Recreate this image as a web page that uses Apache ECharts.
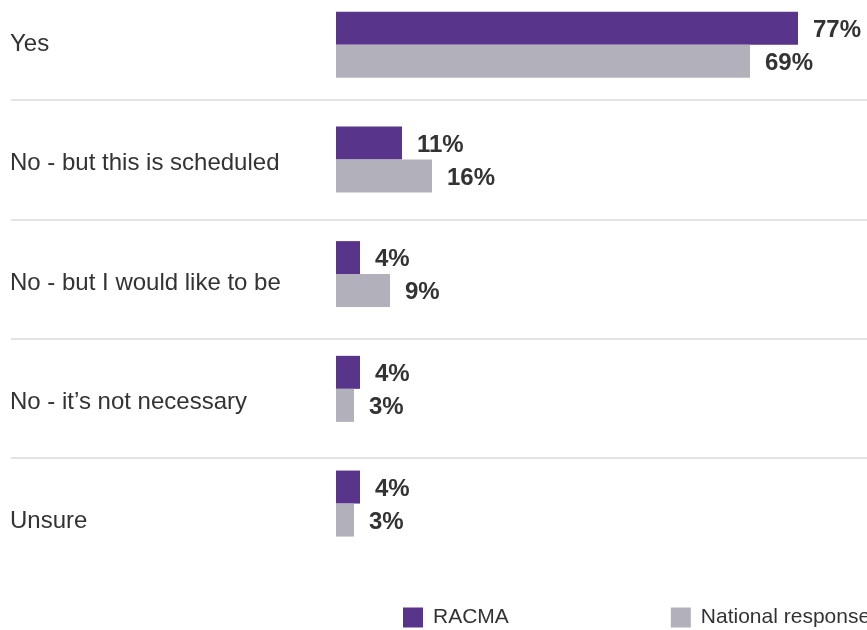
<!DOCTYPE html>
<html>
<head>
<meta charset="utf-8">
<title>RACMA vs National</title>
<script src="https://cdn.jsdelivr.net/npm/echarts@6/dist/echarts.min.js"></script>
<style>
  html, body { margin: 0; padding: 0; background: #fff; }
  #chart { width: 867px; height: 630px; }
</style>
</head>
<body>
<div id="chart"></div>
<script>
var categories = [
  "Yes",
  "No - but this is scheduled",
  "No - but I would like to be",
  "No - it\u2019s not necessary",
  "Unsure"
];
var racma = [77, 11, 4, 4, 4];
var national = [69, 16, 9, 3, 3];
var seriesNames = ["RACMA", "National response"];

var purple = "#58348b";
var grey = "#b1b0bb";
var textColor = "#333";
var fontFamily = "'Liberation Sans', Arial, sans-serif";
var sepColor = "#e3e3e3";

var myChart = echarts.init(document.getElementById("chart"));

function barSeries(name, data, color) {
  return {
    name: name,
    type: "bar",
    xAxisIndex: 0,
    yAxisIndex: 0,
    data: data,
    barWidth: 33,
    barGap: "0%",
    itemStyle: { color: color },
    label: {
      show: true,
      position: "right",
      distance: 15,
      offset: [0, 2],
      formatter: "{c}%",
      fontFamily: fontFamily,
      fontSize: 24,
      fontWeight: "bold",
      color: textColor
    }
  };
}

var option = {
  animation: false,
  textStyle: { fontFamily: fontFamily },
  legend: {
    data: seriesNames,
    left: 403,
    top: 607,
    width: 600, // keep both items on one row, the second runs off the edge
    padding: 0,
    icon: "rect",
    itemWidth: 20,
    itemHeight: 20,
    itemGap: 162,
    textStyle: {
      fontSize: 21,
      color: textColor,
      padding: [0, 0, 0, 5]
    }
  },
  grid: [
    // bars (category points sit on the ticks)
    { left: 336, right: 0, top: 44.66, height: 458.9, outerBoundsMode: "none" },
    // category labels
    { left: 10, right: 0, top: 44.4, height: 477, outerBoundsMode: "none" },
    // separators
    { left: 11, right: 0, top: 100, height: 357.75, outerBoundsMode: "none" }
  ],
  xAxis: [
    { type: "value", gridIndex: 0, min: 0, max: 88.5, show: false },
    { type: "value", gridIndex: 1, show: false },
    { type: "value", gridIndex: 2, show: false }
  ],
  yAxis: [
    {
      type: "category",
      gridIndex: 0,
      data: categories,
      inverse: true,
      boundaryGap: false,
      show: false
    },
    {
      type: "category",
      gridIndex: 1,
      data: categories,
      inverse: true,
      boundaryGap: false,
      axisLine: { show: false },
      axisTick: { show: false },
      splitLine: { show: false },
      axisLabel: {
        inside: true,
        margin: 0,
        fontSize: 24,
        color: textColor
      }
    },
    {
      type: "value",
      gridIndex: 2,
      min: 0,
      max: 3,
      interval: 1,
      axisLine: { show: false },
      axisTick: { show: false },
      axisLabel: { show: false },
      splitLine: {
        show: true,
        lineStyle: { width: 2, color: sepColor }
      }
    }
  ],
  series: [
    barSeries(seriesNames[0], racma, purple),
    barSeries(seriesNames[1], national, grey)
  ]
};

myChart.setOption(option);
</script>
</body>
</html>
